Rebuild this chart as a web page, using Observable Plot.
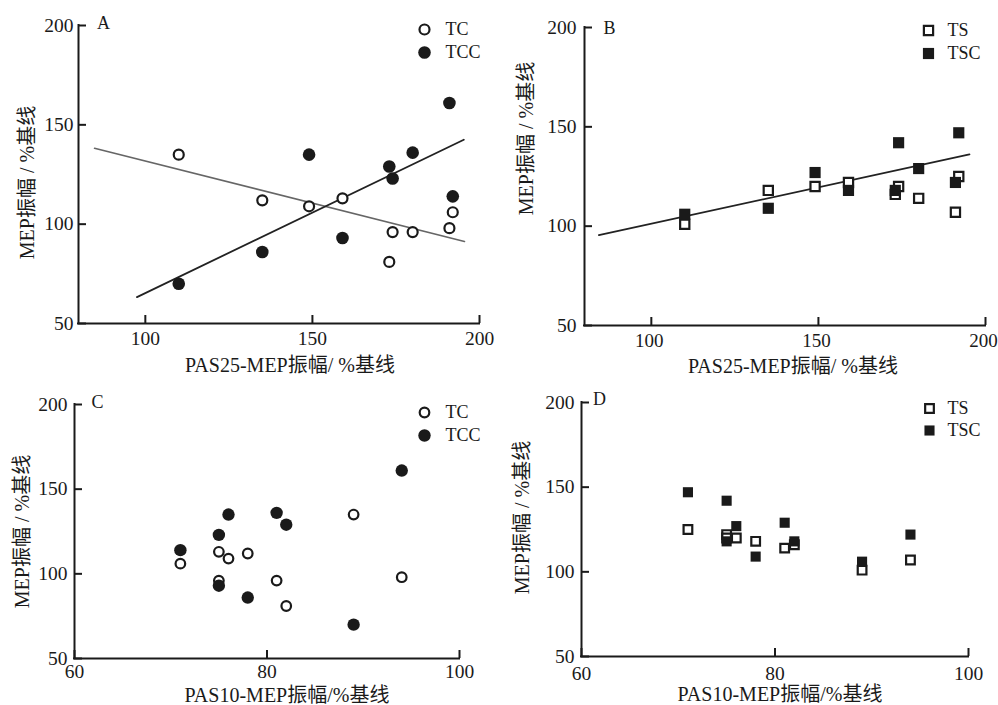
<!DOCTYPE html>
<html><head><meta charset="utf-8">
<script src="https://cdn.jsdelivr.net/npm/d3@7"></script>
<script src="https://cdn.jsdelivr.net/npm/@observablehq/plot@0.6"></script>
<style>
body{margin:0;background:#fff;}
#fig{position:relative;width:998px;height:705px;overflow:hidden;background:#fff;}
.panel{position:absolute;}
</style></head><body><div id="fig"></div>
<script>
// Subjects (same nine subjects in every panel)
const pas25 = [110, 135, 149, 159, 173, 174, 180, 191, 192];
const pas10 = [89, 78, 76, 75, 82, 75, 81, 94, 71];
const tc  = [135, 112, 109, 113, 81, 96, 96, 98, 106];
const tcc = [70, 86, 135, 93, 129, 123, 136, 161, 114];
const ts  = [101, 118, 120, 122, 116, 120, 114, 107, 125];
const tsc = [106, 109, 127, 118, 118, 142, 129, 122, 147];

// Fitted lines (endpoints)
const fitA_TC_x  = [84.8, 195.5], fitA_TC_y  = [138.2, 91.3];
const fitA_TCC_x = [97.5, 195.3], fitA_TCC_y = [63.3, 142.5];
const fitB_x     = [84.3, 195.2], fitB_y     = [95.5, 136.1];

const yTicks = [50, 100, 150, 200];
const xTicks25 = [100, 150, 200];
const xTicks10 = [60, 80, 100];
const seriesCirc = ["TC", "TCC"];
const seriesSq = ["TS", "TSC"];
const panelLabels = ["A", "B", "C", "D"];
const yTitle = "MEP振幅 / %基线";
const xTitle25 = "PAS25-MEP振幅/ %基线";
const xTitle10 = "PAS10-MEP振幅/%基线";

const rows = pas25.map((v, i) => ({pas25: v, pas10: pas10[i], tc: tc[i], tcc: tcc[i], ts: ts[i], tsc: tsc[i]}));
const fitRows = (xs, ys) => xs.map((x, i) => ({x, y: ys[i]}));

const ink = "#1a1a1a";
const FONT = '"Liberation Serif", "Times New Roman", "Noto Sans CJK SC", serif';
const TICK_FS = 19.5;

function panel(c) {
  const fw = c.width - c.ml - c.mr, fh = c.height - c.mt - c.mb;
  const marks = [
    Plot.ruleX([c.xDomain[0]], {stroke: ink, strokeWidth: 2, strokeLinecap: "square"}),
    Plot.ruleY([50], {stroke: ink, strokeWidth: 2, strokeLinecap: "square"}),
    Plot.tickY(yTicks, {y: d => d, insetRight: fw - 8, stroke: ink, strokeWidth: 2}),
    Plot.tickX(c.xTicks, {x: d => d, insetTop: fh - 8, stroke: ink, strokeWidth: 2}),
    Plot.axisY({ticks: yTicks, tickSize: 0, tickPadding: c.padY, fontSize: TICK_FS, label: null}),
    Plot.axisX({ticks: c.xTicks, tickSize: 0, tickPadding: c.padX, fontSize: c.xfs || TICK_FS, dx: c.xdx || 0, label: null}),
  ];
  for (const f of (c.fits || [])) {
    marks.push(Plot.line(f.data, {x: "x", y: "y", stroke: f.stroke, strokeWidth: f.sw}));
  }
  marks.push(Plot.dot(rows, {x: c.xKey, y: c.openKey, r: c.rOpen, symbol: c.symbol, fill: "white", stroke: ink, strokeWidth: 2.2}));
  marks.push(Plot.dot(rows, {x: c.xKey, y: c.fillKey, r: c.rFill, symbol: c.symbol, fill: ink, stroke: "none"}));
  // legend
  const L = c.legend;
  marks.push(Plot.dot([c.series[0]], {frameAnchor: "top-right", dx: L.dx, dy: L.dy0, r: c.rOpen, symbol: c.symbol, fill: "white", stroke: ink, strokeWidth: 2.2}));
  marks.push(Plot.dot([c.series[1]], {frameAnchor: "top-right", dx: L.dx, dy: L.dy1, r: c.rFill, symbol: c.symbol, fill: ink, stroke: "none"}));
  marks.push(Plot.text([c.series[0]], {frameAnchor: "top-right", text: d => d, dx: L.tdx, dy: L.dy0, textAnchor: "start", lineAnchor: "middle", fontSize: 18, fill: ink}));
  marks.push(Plot.text([c.series[1]], {frameAnchor: "top-right", text: d => d, dx: L.tdx, dy: L.dy1, textAnchor: "start", lineAnchor: "middle", fontSize: 18, fill: ink}));
  // panel label
  marks.push(Plot.text([c.label], {frameAnchor: "top-left", text: d => d, dx: c.lab[0], dy: c.lab[1], textAnchor: "middle", lineAnchor: "middle", fontSize: 18, fill: ink}));
  // axis titles
  marks.push(Plot.text([c.xTitle], {frameAnchor: "bottom", text: d => d, dx: c.xt[0], dy: c.xt[1], textAnchor: "middle", lineAnchor: "middle", fontSize: 20, fill: ink}));
  marks.push(Plot.text([yTitle], {frameAnchor: "left", text: d => d, rotate: -90, dx: c.yt[0], dy: c.yt[1], textAnchor: "middle", lineAnchor: "middle", fontSize: 20, fill: ink}));

  const svg = Plot.plot({
    width: c.width, height: c.height,
    marginLeft: c.ml, marginRight: c.mr, marginTop: c.mt, marginBottom: c.mb,
    x: {domain: c.xDomain, label: null},
    y: {domain: [50, 200], label: null},
    style: {fontFamily: FONT, fontSize: "18px", color: ink, background: "transparent"},
    marks
  });
  const div = document.createElement("div");
  div.className = "panel";
  div.style.left = c.left + "px";
  div.style.top = c.top + "px";
  div.appendChild(svg);
  document.getElementById("fig").appendChild(div);
}

panel({left: 0, top: 0, width: 500, height: 380, ml: 78, mr: 21, mt: 25, mb: 57,
  xDomain: [80, 200], xTicks: xTicks25, xKey: "pas25", openKey: "tc", fillKey: "tcc",
  symbol: "circle", rOpen: 5, rFill: 6.3, series: seriesCirc, label: panelLabels[0],
  padX: 8, padY: 5, legend: {dx: -55, dy0: 4, dy1: 27, tdx: -34},
  lab: [25, -2], xTitle: xTitle25, xt: [11, 42], yt: [-51, 8],
  fits: [{data: fitRows(fitA_TC_x, fitA_TC_y), stroke: "#666", sw: 1.6},
         {data: fitRows(fitA_TCC_x, fitA_TCC_y), stroke: "#222", sw: 1.8}]});

panel({left: 500, top: 0, width: 498, height: 380, ml: 84, mr: 13, mt: 27, mb: 55,
  xDomain: [80, 200], xTicks: xTicks25, xKey: "pas25", openKey: "ts", fillKey: "tsc",
  symbol: "square", rOpen: 5.2, rFill: 6.3, series: seriesSq, label: panelLabels[1],
  padX: 8, padY: 8, xfs: 19, xdx: -2, legend: {dx: -57, dy0: 3, dy1: 26, tdx: -38},
  lab: [25, 1], xTitle: xTitle25, xt: [8, 41], yt: [-58, -38],
  fits: [{data: fitRows(fitB_x, fitB_y), stroke: "#222", sw: 1.8}]});

panel({left: 0, top: 380, width: 500, height: 325, ml: 74, mr: 41, mt: 24, mb: 47,
  xDomain: [60, 100], xTicks: xTicks10, xKey: "pas10", openKey: "tc", fillKey: "tcc",
  symbol: "circle", rOpen: 4.8, rFill: 6.2, series: seriesCirc, label: panelLabels[2],
  padX: 6, padY: 7, legend: {dx: -35, dy0: 8, dy1: 31, tdx: -14},
  lab: [23, -2], xTitle: xTitle10, xt: [20, 37], yt: [-52, 0]});

panel({left: 500, top: 380, width: 498, height: 325, ml: 81, mr: 30, mt: 22, mb: 49,
  xDomain: [60, 100], xTicks: xTicks10, xKey: "pas10", openKey: "ts", fillKey: "tsc",
  symbol: "square", rOpen: 4.9, rFill: 5.7, series: seriesSq, label: panelLabels[3],
  padX: 10, padY: 7, legend: {dx: -39, dy0: 6, dy1: 28, tdx: -21},
  lab: [18, -3], xTitle: xTitle10, xt: [5, 38], yt: [-59, -12]});
</script>
</body></html>
